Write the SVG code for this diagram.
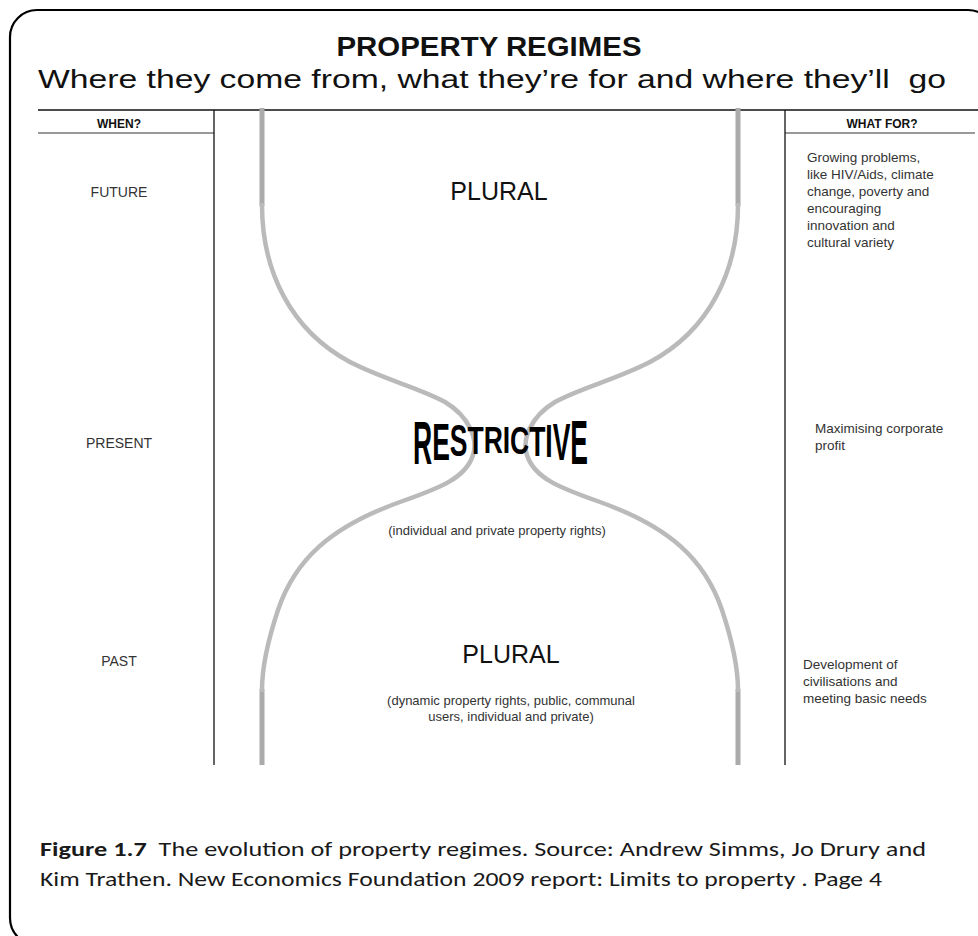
<svg xmlns="http://www.w3.org/2000/svg" width="978" height="936" viewBox="0 0 978 936">
  <style>
    .sans { font-family: "Liberation Sans", Arial, sans-serif; }
    .title { font-size: 27px; font-weight: bold; fill: #111; text-anchor: middle; }
    .subtitle { font-size: 26px; fill: #111; }
    .head { font-size: 12px; font-weight: bold; fill: #111; text-anchor: middle; }
    .when { font-size: 14px; fill: #333; text-anchor: middle; }
    .why { font-size: 13.5px; fill: #333; }
    .regime { font-size: 25px; fill: #111; text-anchor: middle; }
    .note { font-size: 13px; fill: #333; text-anchor: middle; }
    .warp { font-size: 26.5px; font-weight: bold; fill: #000; text-anchor: middle; }
    .caption { font-family: Carlito, "Liberation Sans", Arial, sans-serif; font-size: 20px; fill: #1a1a1a; }
    .rule { stroke: #111; stroke-width: 1.3; fill: none; }
    .subrule { stroke: #777; stroke-width: 1.5; fill: none; }
    .arm { stroke: #bababa; stroke-width: 4.5; fill: none; stroke-linecap: round; }
    .post { stroke: #ababab; stroke-width: 5; fill: none; }
  </style>

  <!-- outer frame -->
  <rect id="frame" x="10" y="10" width="985" height="935" rx="27" ry="27" fill="#fff" stroke="#000" stroke-width="2.2"/>

  <!-- headings -->
  <g id="heading">
    <text class="sans title" x="489" y="56" textLength="305" lengthAdjust="spacingAndGlyphs">PROPERTY REGIMES</text>
    <text class="sans subtitle" x="38" y="88" xml:space="preserve" textLength="908" lengthAdjust="spacingAndGlyphs">Where they come from, what they’re for and where they’ll  go</text>
  </g>

  <!-- table rules -->
  <g id="table">
    <line class="rule" x1="38" y1="110" x2="978" y2="110"/>
    <line class="subrule" x1="38" y1="133" x2="214" y2="133"/>
    <line class="subrule" x1="785" y1="133" x2="975" y2="133"/>
    <line class="rule" x1="214" y1="110" x2="214" y2="765"/>
    <line class="rule" x1="785" y1="110" x2="785" y2="765"/>
  </g>

  <!-- hourglass outline -->
  <g id="connectors">
    <path class="post" d="M262,108 V206 M738,108 V206 M262,689 V765 M738,689 V765"/>
    <path class="arm" d="M262,205 C262,270 290,330 350,362 C385,380 420,388 445,402 C470,417 478,440 473,455 C466,478 440,488 400,502 C330,527 295,560 278,610 C268,640 262,665 262,690"/>
    <path class="arm" d="M738,205 C738,270 710,330 650,362 C615,380 580,388 555,402 C530,417 522,440 527,455 C534,478 560,488 600,502 C670,527 705,560 722,610 C732,640 738,665 738,690"/>
  </g>

  <!-- when column -->
  <g id="col-when">
    <text class="sans head" x="119" y="128">WHEN?</text>
    <text class="sans when" x="119" y="197">FUTURE</text>
    <text class="sans when" x="119" y="448">PRESENT</text>
    <text class="sans when" x="119" y="666">PAST</text>
  </g>

  <!-- what-for column -->
  <g id="col-whatfor">
    <text class="sans head" x="882" y="128">WHAT FOR?</text>
    <text class="sans why" x="807" y="162">Growing problems,</text>
    <text class="sans why" x="807" y="179">like HIV/Aids, climate</text>
    <text class="sans why" x="807" y="196">change, poverty and</text>
    <text class="sans why" x="807" y="213">encouraging</text>
    <text class="sans why" x="807" y="230">innovation and</text>
    <text class="sans why" x="807" y="247">cultural variety</text>
    <text class="sans why" x="815" y="433">Maximising corporate</text>
    <text class="sans why" x="815" y="450">profit</text>
    <text class="sans why" x="803" y="669">Development of</text>
    <text class="sans why" x="803" y="686">civilisations and</text>
    <text class="sans why" x="803" y="703">meeting basic needs</text>
  </g>

  <!-- future regime -->
  <g id="plural-future">
    <text class="sans regime" x="499" y="200">PLURAL</text>
  </g>

  <!-- present regime: letters squeezed toward the waist -->
  <g id="restrictive" class="sans warp">
    <text transform="translate(422.6,464.1) scale(1,2.33)">R</text>
    <text transform="translate(441,459.5) scale(1,1.94)">E</text>
    <text transform="translate(458.6,456.2) scale(1,1.65)">S</text>
    <text transform="translate(475.5,454.1) scale(1,1.47)">T</text>
    <text transform="translate(493.2,453.1) scale(1,1.38)">R</text>
    <text transform="translate(506.4,453.1) scale(1,1.38)">I</text>
    <text transform="translate(519.6,453.7) scale(1,1.43)">C</text>
    <text transform="translate(537.3,455.5) scale(1,1.59)">T</text>
    <text transform="translate(549,457.3) scale(1,1.75)">I</text>
    <text transform="translate(561.5,459.8) scale(1,1.96)">V</text>
    <text transform="translate(579.2,464.3) scale(1,2.35)">E</text>
  </g>
  <g id="restrictive-note">
    <text class="sans note" x="497" y="535">(individual and private property rights)</text>
  </g>

  <!-- past regime -->
  <g id="plural-past">
    <text class="sans regime" x="511" y="663">PLURAL</text>
    <text class="sans note" x="511" y="705">(dynamic property rights, public, communal</text>
    <text class="sans note" x="511" y="721">users, individual and private)</text>
  </g>

  <!-- caption -->
  <g id="caption" class="caption">
    <text x="40" y="856" xml:space="preserve" textLength="886" lengthAdjust="spacingAndGlyphs"><tspan font-weight="bold">Figure 1.7</tspan>  The evolution of property regimes. Source: Andrew Simms, Jo Drury and</text>
    <text x="40" y="886" textLength="842" lengthAdjust="spacingAndGlyphs">Kim Trathen. New Economics Foundation 2009 report: Limits to property . Page 4</text>
  </g>
</svg>
